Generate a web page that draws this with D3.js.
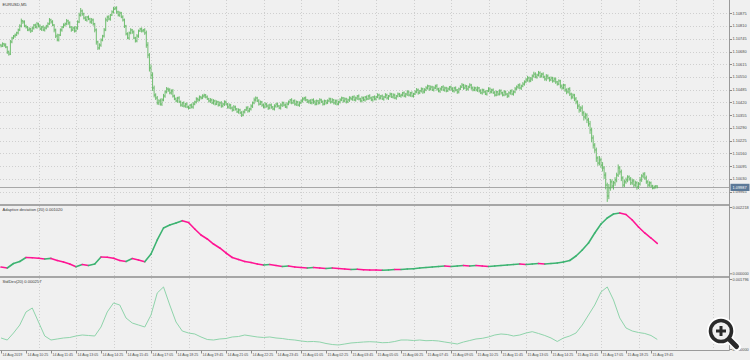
<!DOCTYPE html>
<html><head><meta charset="utf-8">
<script src="https://cdn.jsdelivr.net/npm/d3@7"></script>
<style>html,body{margin:0;padding:0;background:#f0f0f0;}svg{display:block;}</style>
</head><body><svg id="c" width="750" height="360"></svg>
<script>
// ---------------- DATA ----------------
const symbolTitle = "EURUSD,M5";
const adTitle = "Adaptive deviation (20) 0.001020";
const sdTitle = "StdDev(20) 0.000257";
const timeLabels = ["14 Aug 2019","14 Aug 10:25","14 Aug 11:45","14 Aug 13:05","14 Aug 14:25","14 Aug 15:45","14 Aug 17:05","14 Aug 18:25","14 Aug 19:45","14 Aug 21:05","14 Aug 22:25","14 Aug 23:45","15 Aug 01:05","15 Aug 02:25","15 Aug 03:45","15 Aug 05:05","15 Aug 06:25","15 Aug 07:45","15 Aug 09:05","15 Aug 10:25","15 Aug 11:45","15 Aug 13:05","15 Aug 14:25","15 Aug 15:45","15 Aug 17:05","15 Aug 18:25","15 Aug 19:45"];
const barsPerLabel = 16;
const priceTicks = [1.10875,1.10810,1.10745,1.10680,1.10615,1.10550,1.10485,1.10420,1.10355,1.10290,1.10225,1.10160,1.10095,1.10030,1.09965];
const lastPrice = 1.09987;
const adTicks = [0.002218, 0.000000];
const sdTicks = [0.001796, 0.000000];
const firstOpen = 1.10713;
const close = [
1.10708,1.10719,1.10713,1.10703,1.10678,1.10667,1.10729,1.10749,1.10759,1.10764,1.10775,1.10790,1.10810,1.10836,1.10831,1.10810,
1.10805,1.10790,1.10795,1.10785,1.10800,1.10815,1.10805,1.10821,1.10810,1.10795,1.10805,1.10790,1.10800,1.10810,1.10821,1.10841,
1.10831,1.10815,1.10790,1.10759,1.10739,1.10764,1.10790,1.10805,1.10815,1.10821,1.10836,1.10826,1.10805,1.10790,1.10800,1.10785,
1.10800,1.10831,1.10866,1.10887,1.10872,1.10851,1.10841,1.10856,1.10846,1.10831,1.10841,1.10821,1.10790,1.10729,1.10698,1.10713,
1.10739,1.10759,1.10790,1.10841,1.10856,1.10846,1.10866,1.10882,1.10897,1.10902,1.10882,1.10866,1.10877,1.10856,1.10841,1.10810,
1.10770,1.10749,1.10775,1.10790,1.10780,1.10749,1.10734,1.10759,1.10785,1.10795,1.10785,1.10790,1.10775,1.10713,1.10662,1.10596,
1.10560,1.10494,1.10458,1.10443,1.10418,1.10428,1.10412,1.10433,1.10453,1.10474,1.10489,1.10484,1.10469,1.10479,1.10453,1.10438,
1.10428,1.10443,1.10423,1.10407,1.10418,1.10402,1.10412,1.10397,1.10392,1.10407,1.10397,1.10412,1.10423,1.10438,1.10433,1.10448,
1.10443,1.10453,1.10458,1.10448,1.10438,1.10428,1.10433,1.10418,1.10428,1.10412,1.10423,1.10407,1.10418,1.10402,1.10412,1.10423,
1.10412,1.10397,1.10407,1.10392,1.10382,1.10397,1.10387,1.10372,1.10382,1.10367,1.10356,1.10372,1.10382,1.10392,1.10377,1.10387,
1.10402,1.10418,1.10433,1.10443,1.10428,1.10412,1.10423,1.10407,1.10397,1.10412,1.10402,1.10392,1.10407,1.10397,1.10387,1.10402,
1.10412,1.10402,1.10392,1.10407,1.10418,1.10407,1.10397,1.10412,1.10423,1.10433,1.10418,1.10428,1.10412,1.10423,1.10407,1.10418,
1.10428,1.10438,1.10443,1.10433,1.10423,1.10428,1.10418,1.10433,1.10423,1.10412,1.10428,1.10418,1.10433,1.10423,1.10412,1.10428,
1.10418,1.10428,1.10438,1.10423,1.10433,1.10418,1.10428,1.10412,1.10423,1.10433,1.10443,1.10428,1.10438,1.10423,1.10433,1.10443,
1.10438,1.10448,1.10433,1.10443,1.10453,1.10438,1.10428,1.10443,1.10433,1.10448,1.10438,1.10453,1.10443,1.10433,1.10448,1.10438,
1.10448,1.10458,1.10443,1.10453,1.10438,1.10448,1.10458,1.10443,1.10453,1.10463,1.10448,1.10458,1.10443,1.10453,1.10463,1.10453,
1.10458,1.10469,1.10453,1.10463,1.10474,1.10458,1.10469,1.10453,1.10463,1.10474,1.10484,1.10469,1.10479,1.10489,1.10474,1.10484,
1.10494,1.10504,1.10489,1.10499,1.10484,1.10494,1.10504,1.10489,1.10479,1.10489,1.10499,1.10484,1.10494,1.10479,1.10489,1.10499,
1.10489,1.10479,1.10494,1.10484,1.10474,1.10489,1.10499,1.10509,1.10494,1.10504,1.10489,1.10499,1.10509,1.10494,1.10484,1.10494,
1.10484,1.10494,1.10479,1.10469,1.10484,1.10474,1.10463,1.10479,1.10489,1.10474,1.10484,1.10469,1.10458,1.10474,1.10463,1.10479,
1.10469,1.10458,1.10474,1.10463,1.10453,1.10469,1.10479,1.10463,1.10474,1.10489,1.10499,1.10509,1.10494,1.10504,1.10514,1.10525,
1.10535,1.10545,1.10530,1.10540,1.10555,1.10565,1.10550,1.10560,1.10571,1.10555,1.10565,1.10550,1.10540,1.10555,1.10545,1.10535,
1.10545,1.10530,1.10540,1.10525,1.10514,1.10530,1.10504,1.10494,1.10509,1.10484,1.10474,1.10489,1.10463,1.10448,1.10458,1.10438,
1.10423,1.10402,1.10382,1.10392,1.10367,1.10346,1.10356,1.10331,1.10311,1.10280,1.10239,1.10203,1.10178,1.10137,1.10111,1.10127,
1.10101,1.10086,1.10050,1.09999,1.09943,1.09984,1.10015,1.09994,1.10010,1.10025,1.10050,1.10086,1.10066,1.10035,1.09999,1.10015,
1.10025,1.10040,1.10030,1.10010,1.10020,1.09999,1.10010,1.09989,1.10004,1.10025,1.10045,1.10055,1.10035,1.10015,1.09999,1.10010,
1.09994,1.09984,1.09989,1.09994,1.09987];
// wick extension beyond the bar body, in points (0.00001)
const wickUpPts = [
6,8,5,9,4,7,10,6,5,8,6,7,9,12,5,8, 7,5,9,6,8,5,7,10,6,8,5,9,7,6,8,10, 6,9,5,7,12,6,8,5,9,7,10,6,8,5,7,9,
10,8,12,15,7,6,9,5,8,6,10,7,5,8,6,9, 8,6,10,12,7,9,6,8,11,7,9,6,8,5,9,7, 6,8,7,9,5,8,6,10,7,6,8,5,9,12,15,10,
18,14,12,9,10,8,12,9,11,8,10,7,9,8,10,7, 8,6,9,7,5,8,6,9,7,5,8,10,6,9,7,8, 6,9,7,5,8,6,10,7,9,6,8,5,7,9,6,8,
7,5,9,6,8,10,7,5,8,6,9,7,5,8,10,6, 9,7,12,8,6,9,7,5,8,10,6,9,7,8,5,9, 6,8,5,9,7,6,8,10,7,5,9,6,8,7,5,8,
7,9,6,8,5,7,9,6,8,10,7,5,9,6,8,7, 5,8,7,6,9,5,7,8,6,9,7,5,8,6,7,9, 8,6,9,7,5,8,6,9,7,5,8,6,9,7,5,8,
6,9,7,5,8,6,10,7,5,8,6,9,7,5,8,6, 7,5,8,6,9,7,5,8,6,9,10,7,5,8,6,9, 9,7,5,8,6,9,7,10,6,8,5,9,7,6,8,5,
7,9,6,8,5,7,9,10,6,8,5,7,9,6,8,7, 6,8,5,9,7,6,8,5,9,7,6,8,10,7,5,8, 8,6,9,7,5,8,6,9,7,10,8,6,9,7,10,8,
9,11,7,10,8,12,9,7,10,8,6,9,7,10,8,6, 8,6,9,7,5,8,6,9,7,5,8,6,9,7,8,6, 10,8,12,9,14,10,12,9,11,15,12,14,10,12,9,20,
12,15,10,14,12,20,15,12,10,14,12,18,10,12,9,11, 12,9,8,10,12,9,11,8,10,14,9,8,10,12,9,8, 7,6,8,5,4];
const wickDnPts = [
7,5,9,6,10,8,5,7,6,9,5,8,6,7,10,6, 8,6,7,10,5,8,6,9,7,5,10,6,8,7,9,5, 9,6,12,10,7,8,5,9,6,8,7,10,6,9,5,8,
7,9,6,8,10,7,5,9,6,8,10,9,12,14,10,8, 9,7,8,6,10,7,9,5,8,6,10,7,9,6,8,10, 8,6,9,7,10,6,8,7,9,5,8,7,10,14,16,18,
20,15,12,10,9,11,8,10,7,9,8,10,7,9,8,6, 7,9,6,8,10,7,9,6,8,5,7,9,6,8,10,7, 8,6,9,7,5,8,10,6,9,7,5,8,6,9,7,10,
6,8,10,7,9,6,8,5,9,7,10,6,8,5,9,7, 8,10,7,9,6,8,5,9,7,6,8,10,7,9,6,8, 9,7,6,8,10,7,5,8,6,9,7,5,8,10,6,9,
6,8,9,7,5,9,6,8,10,7,6,9,7,5,8,6, 8,6,7,9,6,8,10,7,5,8,6,9,7,8,6,10, 7,9,6,8,10,7,5,8,6,9,7,5,8,6,9,7,
8,6,9,7,5,9,6,8,10,7,5,8,6,9,7,5, 9,7,6,8,10,7,9,6,8,5,7,9,6,8,10,7, 6,8,10,7,5,8,6,9,7,10,8,6,9,7,5,8,
8,6,9,7,10,8,6,5,9,7,10,8,6,9,7,6, 7,10,8,6,9,7,5,8,6,9,7,5,8,6,9,7, 9,7,6,8,10,7,9,6,8,7,6,9,7,10,6,8,
7,9,8,6,10,8,6,9,7,10,8,6,9,11,7,9, 6,9,7,10,8,6,12,9,7,10,12,8,10,12,9,11, 12,15,14,10,15,18,12,16,14,20,22,18,15,20,14,12,
15,18,20,22,30,16,14,12,18,15,12,10,14,16,12,10, 10,12,9,11,10,12,9,14,10,8,10,12,9,10,12,9, 8,7,6,8,5];
// indicator values, one every 4 bars
const indStep = 4;
const adaptiveDev = [
0.000246,0.000214,0.000361,0.000427,0.000559,0.000549,0.000536,0.000509,0.000529,0.000460,0.000411,0.000345,0.000256,0.000329,0.000296,0.000345,
0.000575,0.000568,0.000532,0.000460,0.000427,0.000526,0.000476,0.000421,0.000674,0.001134,0.001528,0.001627,0.001692,0.001768,0.001709,0.001495,
0.001298,0.001167,0.001002,0.000871,0.000707,0.000559,0.000493,0.000427,0.000394,0.000345,0.000312,0.000329,0.000296,0.000263,0.000279,0.000246,
0.000230,0.000214,0.000230,0.000214,0.000197,0.000214,0.000197,0.000181,0.000164,0.000171,0.000154,0.000148,0.000148,0.000138,0.000148,0.000164,
0.000164,0.000181,0.000187,0.000214,0.000230,0.000246,0.000263,0.000279,0.000263,0.000279,0.000296,0.000279,0.000296,0.000279,0.000263,0.000279,
0.000296,0.000312,0.000329,0.000345,0.000329,0.000345,0.000361,0.000345,0.000361,0.000378,0.000411,0.000460,0.000608,0.000805,0.001035,0.001364,
0.001659,0.001857,0.001988,0.002021,0.001972,0.001791,0.001561,0.001364,0.001199,0.001020];
const stdDev = [
0.000293,0.000242,0.000420,0.000624,0.000956,0.001057,0.000701,0.000344,0.000242,0.000268,0.000293,0.000306,0.000344,0.000369,0.000357,0.000344,
0.000573,0.000956,0.001185,0.001134,0.000803,0.000675,0.000624,0.000573,0.000879,0.001440,0.001593,0.001134,0.000701,0.000471,0.000420,0.000395,
0.000319,0.000255,0.000242,0.000268,0.000280,0.000319,0.000331,0.000369,0.000344,0.000319,0.000306,0.000319,0.000293,0.000280,0.000255,0.000242,
0.000217,0.000199,0.000204,0.000191,0.000153,0.000127,0.000115,0.000140,0.000166,0.000178,0.000191,0.000199,0.000191,0.000173,0.000178,0.000204,
0.000242,0.000242,0.000229,0.000242,0.000224,0.000229,0.000217,0.000191,0.000166,0.000140,0.000191,0.000229,0.000268,0.000285,0.000319,0.000369,
0.000395,0.000382,0.000344,0.000369,0.000420,0.000454,0.000408,0.000357,0.000293,0.000204,0.000293,0.000344,0.000420,0.000624,0.000879,0.001134,
0.001465,0.001593,0.001261,0.000803,0.000548,0.000471,0.000433,0.000408,0.000357,0.000257];

// ---------------- DRAWING ----------------
const W = 750, H = 360;
const plotL = 0, plotR = 729.5;
const font = "'Liberation Sans', Arial, sans-serif";
const axisCol = "#4a4a4a";
const gridCol = "#cfcfcf";
const svg = d3.select("#c");
svg.append("rect").attr("width", W).attr("height", H).attr("fill", "#f0f0f0");

const x = d3.scaleLinear().domain([0, close.length - 1]).range([1, 657.25]);
const yP = d3.scaleLinear().domain([1.09965, 1.10875]).range([191.7, 13.3]);
const yA = d3.scaleLinear().domain([0, 0.002218]).range([274.5, 207]);
const yS = d3.scaleLinear().domain([0, 0.001796]).range([349.5, 279]);

const panels = [[0, 204], [206, 276], [278, 350.5]];

// vertical dotted grid (every 24 bars)
const gridBars = d3.range(24, 24 * 20, 24).filter(b => x(b) < plotR - 2);
panels.forEach(([t, b]) => {
  svg.append("g").selectAll("line").data(gridBars).join("line")
    .attr("x1", d => Math.round(x(d)) + 0.5).attr("x2", d => Math.round(x(d)) + 0.5)
    .attr("y1", t).attr("y2", b)
    .attr("stroke", gridCol).attr("stroke-width", 1).attr("stroke-dasharray", "1,2");
});
// horizontal dotted grid in price panel
svg.append("g").selectAll("line").data(priceTicks).join("line")
  .attr("x1", plotL).attr("x2", plotR)
  .attr("y1", d => Math.round(yP(d)) + 0.5).attr("y2", d => Math.round(yP(d)) + 0.5)
  .attr("stroke", gridCol).attr("stroke-width", 1).attr("stroke-dasharray", "1,2");

// current price line
svg.append("line").attr("x1", plotL).attr("x2", plotR)
  .attr("y1", Math.round(yP(lastPrice)) + 0.5).attr("y2", Math.round(yP(lastPrice)) + 0.5)
  .attr("stroke", "#a8a8a8").attr("stroke-width", 1);

// OHLC bars
const bars = close.map((c, i) => {
  const o = i ? close[i - 1] : firstOpen;
  return { i, o, c, hi: Math.max(o, c) + wickUpPts[i] / 1e5, lo: Math.min(o, c) - wickDnPts[i] / 1e5 };
});
svg.append("g").selectAll("path").data(bars).join("path")
  .attr("d", d => {
    const xx = x(d.i);
    return `M${xx},${yP(d.hi)}V${yP(d.lo)}M${xx - 0.9},${yP(d.o)}H${xx}M${xx},${yP(d.c)}H${xx + 0.9}`;
  })
  .attr("fill", "none").attr("stroke", "#62b862").attr("stroke-width", 0.9);

// adaptive deviation (two-colour)
const adSeg = adaptiveDev.slice(1).map((v, k) => ({ a: adaptiveDev[k], b: v, k0: k * indStep, k1: (k + 1) * indStep }));
svg.append("g").selectAll("line").data(adSeg).join("line")
  .attr("x1", d => x(d.k0)).attr("y1", d => yA(d.a))
  .attr("x2", d => x(d.k1)).attr("y2", d => yA(d.b))
  .attr("stroke", d => d.b > d.a ? "#3cb371" : "#ff1493")
  .attr("stroke-width", 1.6).attr("stroke-linecap", "round");

// stddev line
svg.append("path").datum(stdDev)
  .attr("d", d3.line().x((d, k) => x(k * indStep)).y(d => yS(d)))
  .attr("fill", "none").attr("stroke", "#8fd4ab").attr("stroke-width", 1);

// panel separators and borders
svg.append("rect").attr("x", 0).attr("y", 204).attr("width", plotR).attr("height", 2).attr("fill", "#a6a6a6");
svg.append("rect").attr("x", 0).attr("y", 276).attr("width", plotR).attr("height", 2).attr("fill", "#a6a6a6");
svg.append("line").attr("x1", plotR).attr("x2", plotR).attr("y1", 0).attr("y2", 350.5).attr("stroke", "#9a9a9a");
svg.append("line").attr("x1", 0).attr("x2", plotR).attr("y1", 350.5).attr("y2", 350.5).attr("stroke", "#9a9a9a");

// right price axis
const pAx = svg.append("g");
pAx.selectAll("line").data(priceTicks).join("line")
  .attr("x1", plotR).attr("x2", plotR + 2.5)
  .attr("y1", d => Math.round(yP(d)) + 0.5).attr("y2", d => Math.round(yP(d)) + 0.5)
  .attr("stroke", "#8a8a8a");
pAx.selectAll("text").data(priceTicks).join("text")
  .attr("x", plotR + 3).attr("y", d => yP(d)).attr("dy", "0.35em")
  .attr("font-family", font).attr("font-size", 3.9).attr("fill", axisCol)
  .text(d => d.toFixed(5));
// last price box
const ly = yP(lastPrice);
svg.append("rect").attr("x", plotR + 1).attr("y", ly - 3.6).attr("width", 19).attr("height", 7.2).attr("fill", "#5b7897");
svg.append("text").attr("x", plotR + 3).attr("y", ly).attr("dy", "0.35em")
  .attr("font-family", font).attr("font-size", 3.9).attr("fill", "#ffffff").text(lastPrice.toFixed(5));

// indicator axes
function indAxis(ticks, scale, ys) {
  ticks.forEach((t, j) => {
    svg.append("line").attr("x1", plotR).attr("x2", plotR + 2.5).attr("y1", ys[j]).attr("y2", ys[j]).attr("stroke", "#8a8a8a");
    svg.append("text").attr("x", plotR + 3).attr("y", ys[j]).attr("dy", "0.35em")
      .attr("font-family", font).attr("font-size", 3.9).attr("fill", axisCol).text(t.toFixed(6));
  });
}
indAxis(adTicks, yA, [yA(adTicks[0]) + 0.5, yA(adTicks[1]) - 0.7]);
indAxis(sdTicks, yS, [yS(sdTicks[0]) + 0.5, yS(sdTicks[1])]);

// time axis
const tAx = svg.append("g");
tAx.selectAll("line").data(timeLabels).join("line")
  .attr("x1", (d, k) => Math.round(x(k * barsPerLabel)) + 0.5).attr("x2", (d, k) => Math.round(x(k * barsPerLabel)) + 0.5)
  .attr("y1", 350.5).attr("y2", 353.5).attr("stroke", "#8a8a8a");
tAx.selectAll("text").data(timeLabels).join("text")
  .attr("x", (d, k) => x(k * barsPerLabel) + 1.5).attr("y", 354.6).attr("dy", "0.35em")
  .attr("font-family", font).attr("font-size", 3.5).attr("fill", axisCol).text(d => d);

// panel titles
[[symbolTitle, 4.5], [adTitle, 209.5], [sdTitle, 281.8]].forEach(([s, yy]) => {
  svg.append("text").attr("x", 2.5).attr("y", yy).attr("dy", "0.35em")
    .attr("font-family", font).attr("font-size", 4.1).attr("fill", "#3a3a3a").text(s);
});

// zoom (magnifier) badge of the screenshot
const mg = svg.append("g").attr("transform", "translate(721,331)");
mg.append("circle").attr("r", 10.5).attr("fill", "none").attr("stroke", "#ffffff").attr("stroke-width", 7);
mg.append("line").attr("x1", 7.5).attr("y1", 7.5).attr("x2", 16).attr("y2", 16).attr("stroke", "#ffffff").attr("stroke-width", 8).attr("stroke-linecap", "round");
mg.append("circle").attr("r", 10.5).attr("fill", "#f0f0f0").attr("stroke", "#2a2a2a").attr("stroke-width", 3.6);
mg.append("line").attr("x1", 8).attr("y1", 8).attr("x2", 15.5).attr("y2", 15.5).attr("stroke", "#2a2a2a").attr("stroke-width", 5).attr("stroke-linecap", "round");
mg.append("line").attr("x1", -5).attr("x2", 5).attr("y1", 0).attr("y2", 0).attr("stroke", "#2a2a2a").attr("stroke-width", 3);
mg.append("line").attr("x1", 0).attr("x2", 0).attr("y1", -5).attr("y2", 5).attr("stroke", "#2a2a2a").attr("stroke-width", 3);
</script></body></html>
